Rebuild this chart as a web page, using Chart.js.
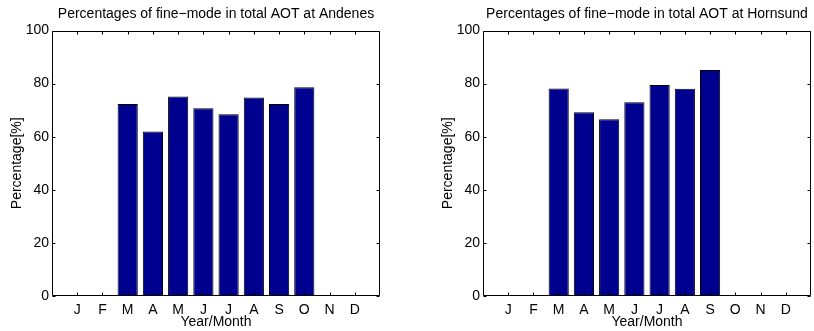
<!DOCTYPE html>
<html><head><meta charset="utf-8">
<script src="https://cdn.jsdelivr.net/npm/chart.js@4"></script>
<style>
html,body{margin:0;padding:0;background:#fff;}
#wrap{position:relative;width:814px;height:331px;overflow:hidden;}
.box{position:absolute;top:0;height:331px;}
</style></head><body>
<div id="wrap">
  <div class="box" style="left:0;width:431px"><canvas id="c1"></canvas></div>
  <div class="box" style="left:431px;width:383px"><canvas id="c2"></canvas></div>
</div>
<script>
// Monthly share of fine-mode aerosol in total AOT (%)
const months = ['J','F','M','A','M','J','J','A','S','O','N','D'];
const yTicks = [0, 20, 40, 60, 80, 100];
const andenes  = [null, null, 72.3, 62.0, 75.1, 70.7, 68.5, 74.8, 72.3, 78.6, null, null];
const hornsund = [null, null, 78.2, 69.2, 66.6, 73.0, 79.5, 78.1, 85.1, null, null, null];

Chart.defaults.font.family = "'Liberation Sans', Arial, Helvetica, sans-serif";
Chart.defaults.color = '#000';

// Axes box with short inward ticks on all four sides
const framePlugin = {
  id: 'frame',
  afterDatasetsDraw(chart) {
    const ctx = chart.ctx;
    const a = chart.chartArea;
    const xs = chart.scales.x, ys = chart.scales.y;
    const L = Math.round(a.left) + 0.5, R = Math.round(a.right) - 0.5;
    const T = Math.round(a.top) + 0.5, B = Math.round(a.bottom) - 0.5;
    const len = 3;
    ctx.save();
    ctx.strokeStyle = '#000';
    ctx.lineWidth = 1;
    ctx.beginPath();
    ctx.rect(L, T, R - L, B - T);
    months.forEach((m, i) => {
      const px = Math.round(xs.getPixelForValue(i + 1)) + 0.5;
      ctx.moveTo(px, B); ctx.lineTo(px, B - len);
      ctx.moveTo(px, T); ctx.lineTo(px, T + len);
    });
    yTicks.forEach(v => {
      const py = Math.round(ys.getPixelForValue(v)) + 0.5;
      ctx.moveTo(L, py); ctx.lineTo(L + len, py);
      ctx.moveTo(R, py); ctx.lineTo(R - len, py);
    });
    ctx.stroke();
    ctx.restore();
  }
};

function makeChart(id, station, values, rightPad) {
  return new Chart(document.getElementById(id), {
    type: 'bar',
    data: {
      datasets: [{
        data: months.map((m, i) => ({ x: i + 1, y: values[i] })),
        backgroundColor: '#00008f',
        borderColor: '#000',
        borderWidth: 1,
        categoryPercentage: 1,
        barPercentage: 0.8
      }]
    },
    options: {
      responsive: true,
      maintainAspectRatio: false,
      animation: false,
      devicePixelRatio: 1,
      layout: { padding: { left: 0, right: rightPad, top: 0, bottom: 0 } },
      plugins: {
        legend: { display: false },
        tooltip: { enabled: false },
        title: {
          display: true,
          text: 'Percentages of fine\u2212mode in total AOT at ' + station,
          font: { size: 14, weight: 'normal' },
          color: '#000',
          fullSize: false,
          padding: { top: 6, bottom: 7.7 }
        }
      },
      scales: {
        x: {
          type: 'linear',
          offset: false,
          min: 0, max: 13,
          afterBuildTicks: s => { s.ticks = months.map((m, i) => ({ value: i + 1 })); },
          afterFit: s => { s.height = 35; },
          grid: { display: false, drawTicks: false, tickLength: 0 },
          border: { display: false },
          ticks: {
            autoSkip: false, maxRotation: 0, padding: 5.4,
            font: { size: 14 }, color: '#000',
            callback: v => months[v - 1] || ''
          },
          title: { display: true, text: 'Year/Month', font: { size: 14 }, color: '#000', padding: { top: 0, bottom: 0 } }
        },
        y: {
          min: 0, max: 100,
          afterBuildTicks: s => { s.ticks = yTicks.map(v => ({ value: v })); },
          afterFit: s => { s.width = 52; },
          grid: { display: false, drawTicks: false, tickLength: 0 },
          border: { display: false },
          ticks: { padding: 3, font: { size: 14 }, color: '#000' },
          title: { display: true, text: 'Percentage[%]', font: { size: 14 }, color: '#000', padding: { top: 9, bottom: 0 } }
        }
      }
    },
    plugins: [framePlugin]
  });
}

makeChart('c1', 'Andenes', andenes, 51);
makeChart('c2', 'Hornsund', hornsund, 3);
</script>
</body></html>
